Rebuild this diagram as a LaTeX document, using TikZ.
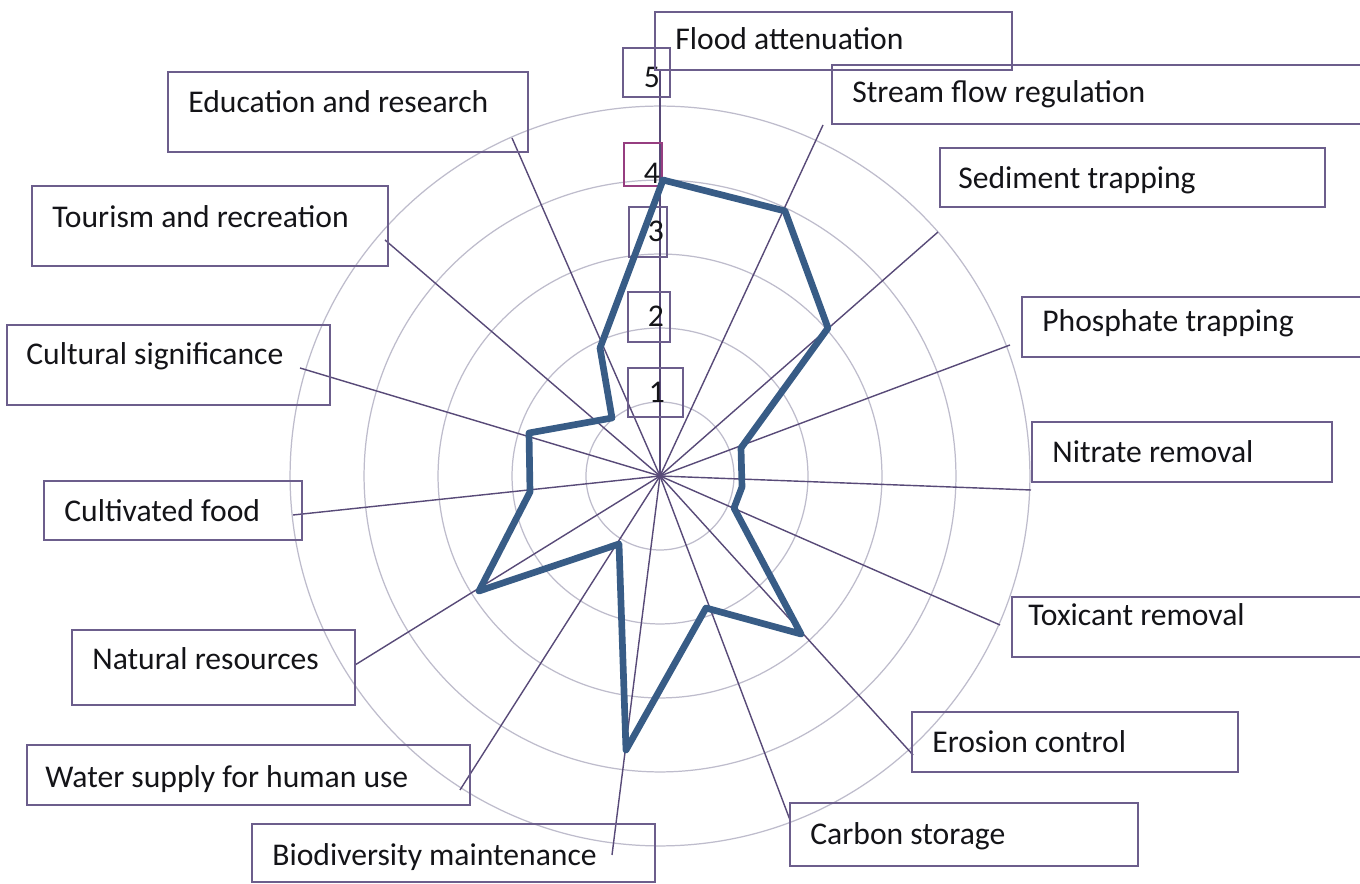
\documentclass[tikz,border=0pt]{standalone}
\usepackage{fontspec}
\setmainfont{Carlito}
\usetikzlibrary{fit}
\definecolor{boxc}{RGB}{108,94,140}
\definecolor{fourc}{RGB}{150,62,128}
\definecolor{axc}{RGB}{88,74,120}
\definecolor{ringc}{RGB}{190,188,204}
\definecolor{datac}{RGB}{56,92,134}
\definecolor{txt}{RGB}{20,20,24}
\begin{document}
\begin{tikzpicture}[x=0.02cm,y=-0.02cm,
  box/.style={draw=boxc, line width=0.8pt, inner sep=0pt},
  lbl/.style={anchor=base west, inner sep=0pt, text=txt, font=\fontsize{18}{20}\selectfont},
  num/.style={anchor=center, inner sep=0pt, text=txt, font=\fontsize{18}{20}\selectfont},
  axisline/.style={draw=axc, line width=0.8pt},
  ring/.style={draw=ringc, line width=0.7pt},
  dataline/.style={draw=datac, line width=3.8pt, line join=round}]
\useasboundingbox (0,0) rectangle (1360,884);
\fill[white] (0,0) rectangle (1360,884);

% centre
\coordinate (O) at (660,476);

% rings
\foreach \r in {1.48,2.96,4.44,5.92,7.4}
  \draw[ring] (O) circle[radius=\r cm];

% axis end points
\coordinate (eFlood) at (660,70);
\coordinate (eStream) at (823,125);
\coordinate (eSed) at (938,232);
\coordinate (ePhos) at (1010,345);
\coordinate (eNit) at (1031,490);
\coordinate (eTox) at (1000,625);
\coordinate (eEro) at (913,755);
\coordinate (eCarb) at (790,820);
\coordinate (eBio) at (612,855);
\coordinate (eWat) at (460,790);
\coordinate (eNat) at (355,665);
\coordinate (eCult) at (293,515);
\coordinate (eCultu) at (300,368);
\coordinate (eTour) at (385,240);
\coordinate (eEdu) at (512,138);

\foreach \e in {eFlood,eStream,eSed,ePhos,eNit,eTox,eEro,eCarb,eBio,eWat,eNat,eCult,eCultu,eTour,eEdu}
  \draw[axisline] (O) -- (\e);

% scale boxes
\node[box, fit={(623,48) (670,97)}] (b5) {};
\node[box, draw=fourc, fit={(624,143) (662,186)}] (b4) {};
\node[box, fit={(629,207) (667,257)}] (b3) {};
\node[box, fit={(628,292) (670,342)}] (b2) {};
\node[box, fit={(628,368) (683,417)}] (b1) {};
\node[num] at (652,77) {5};
\node[num] at (652,173) {4};
\node[num] at (656,231) {3};
\node[num] at (656,316) {2};
\node[num] at (657,392) {1};

% data polygon
\coordinate (v1) at (663,180);
\coordinate (v2) at (785,211);
\coordinate (v3) at (828,328);
\coordinate (v4) at (741,448);
\coordinate (v5) at (742,487);
\coordinate (v6) at (734,508);
\coordinate (v7) at (801,634);
\coordinate (v8) at (706,608);
\coordinate (v9) at (626,750);
\coordinate (v10) at (619,544);
\coordinate (v11) at (479,591);
\coordinate (v12) at (530,492);
\coordinate (v13) at (529,433);
\coordinate (v14) at (612,418);
\coordinate (v15) at (600,348);
\draw[dataline] (v1) -- (v2) -- (v3) -- (v4) -- (v5) -- (v6) -- (v7) -- (v8) -- (v9) -- (v10) -- (v11) -- (v12) -- (v13) -- (v14) -- (v15) -- cycle;

% label boxes
\node[box, fit={(655,12) (1012,70)}] (flood) {};
\node[lbl] at (675,50) {Flood attenuation};
\node[box, fit={(832,65) (1375,124)}] (stream) {};
\node[lbl] at (852,103) {Stream flow regulation};
\node[box, fit={(940,148) (1325,207)}] (sed) {};
\node[lbl] at (958,189) {Sediment trapping};
\node[box, fit={(1022,297) (1375,357)}] (phos) {};
\node[lbl] at (1042,332) {Phosphate trapping};
\node[box, fit={(1032,422) (1332,482)}] (nit) {};
\node[lbl] at (1052,463) {Nitrate removal};
\node[box, fit={(1012,597) (1375,657)}] (tox) {};
\node[lbl] at (1028,626) {Toxicant removal};
\node[box, fit={(912,712) (1238,772)}] (ero) {};
\node[lbl] at (932,753) {Erosion control};
\node[box, fit={(790,803) (1138,866)}] (carb) {};
\node[lbl] at (810,845) {Carbon storage};
\node[box, fit={(252,824) (655,882)}] (bio) {};
\node[lbl] at (272,866) {Biodiversity maintenance};
\node[box, fit={(27,745) (470,805)}] (wat) {};
\node[lbl] at (45,788) {Water supply for human use};
\node[box, fit={(72,630) (355,705)}] (nat) {};
\node[lbl] at (92,670) {Natural resources};
\node[box, fit={(44,481) (302,540)}] (cult) {};
\node[lbl] at (64,522) {Cultivated food};
\node[box, fit={(7,325) (330,405)}] (cultu) {};
\node[lbl] at (26,365) {Cultural significance};
\node[box, fit={(32,186) (388,266)}] (tour) {};
\node[lbl] at (52,228) {Tourism and recreation};
\node[box, fit={(168,72) (528,152)}] (edu) {};
\node[lbl] at (188,113) {Education and research};
\end{tikzpicture}
\end{document}
